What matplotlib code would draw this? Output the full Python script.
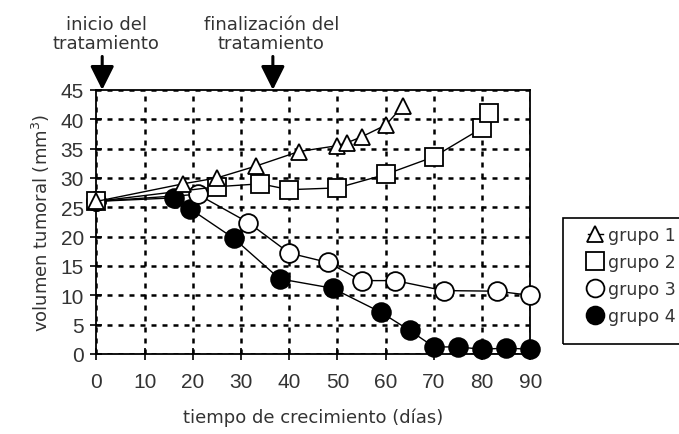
import matplotlib.pyplot as plt
from matplotlib.patches import Rectangle

# datos
g1_x = [0, 18, 25, 33, 42, 50, 52, 55, 60, 63.5]
g1_y = [26, 29, 30, 32, 34.5, 35.5, 36, 37, 39, 42.2]

g2_x = [0, 25, 34, 40, 50, 60, 70, 80, 81.5]
g2_y = [26, 28.5, 29, 28, 28.3, 30.6, 33.6, 38.5, 41.1]

g3_x = [0, 21, 31.5, 40, 48, 55, 62, 72, 83, 90]
g3_y = [26, 27.2, 22.4, 17.2, 15.6, 12.5, 12.5, 10.8, 10.7, 10]

g4_x = [0, 16, 19.5, 28.5, 38, 49, 59, 65, 70, 75, 80, 85, 90]
g4_y = [26, 26.6, 24.7, 19.7, 12.8, 11.2, 7.1, 4.0, 1.2, 1.2, 0.8, 1.0, 0.8]

labels = ["grupo 1", "grupo 2", "grupo 3", "grupo 4"]
arrow_x = [1.2, 36.6]
arrow_text = ["inicio del\ntratamiento", "finalización del\ntratamiento"]

txt_col = "#333333"

fig = plt.figure(figsize=(6.79, 4.35), dpi=100)
ax = fig.add_axes([0.142, 0.184, 0.639, 0.607])

ax.plot(g1_x, g1_y, color="black", lw=1, marker="^", ms=12, mfc="white",
        mec="black", mew=1.3, label=labels[0], clip_on=False, zorder=6)
ax.plot(g2_x, g2_y, color="black", lw=1, marker="s", ms=13.5, mfc="white",
        mec="black", mew=1.3, label=labels[1], clip_on=False, zorder=5)
ax.plot(g3_x, g3_y, color="black", lw=1, marker="o", ms=13.5, mfc="white",
        mec="black", mew=1.3, label=labels[2], clip_on=False, zorder=4)
ax.plot(g4_x, g4_y, color="black", lw=1, marker="o", ms=13.5, mfc="black",
        mec="black", mew=1.3, label=labels[3], clip_on=False, zorder=3)

ax.set_xlim(0, 90)
ax.set_ylim(0, 45)
ax.set_xticks(range(0, 91, 10))
ax.set_yticks(range(0, 46, 5))
ax.grid(True, color="black", linestyle=(0, (2, 2.4)), linewidth=1.8)
ax.set_axisbelow(True)
for s in ax.spines.values():
    s.set_linewidth(1.3)
ax.tick_params(labelsize=15, length=8, width=1.2, direction="inout",
               labelcolor=txt_col, pad=5)
ax.tick_params(axis="x", pad=9)
for t in ax.get_xticklabels() + ax.get_yticklabels():
    t.set_fontfamily("Liberation Sans")

ax.set_xlabel("tiempo de crecimiento (días)", fontsize=13, labelpad=12,
              color=txt_col)
ax.set_ylabel("volumen tumoral (mm$^3$)", fontsize=13, labelpad=6,
              color=txt_col)

for xv, txt in zip(arrow_x, arrow_text):
    ax.annotate("", xy=(xv, 45), xytext=(xv, 50.7), annotation_clip=False,
                arrowprops=dict(arrowstyle="-|>,head_length=0.72,head_width=0.36",
                                color="black", lw=2.2, mutation_scale=20,
                                shrinkA=0, shrinkB=0))
    ax.text(xv + (0.8 if xv < 10 else -0.3), 51.5, txt, ha="center",
            va="bottom", fontsize=13, linespacing=1.05, color=txt_col)

leg = ax.legend(loc="upper left", bbox_to_anchor=(0.845, 0.51),
                bbox_transform=fig.transFigure, fontsize=12.5, frameon=False,
                markerscale=0.95, handlelength=0.9, handletextpad=0.25,
                labelspacing=0.52, borderpad=0.3)
for t in leg.get_texts():
    t.set_color(txt_col)

fig.patches.append(Rectangle((0.829, 0.207), 0.2, 0.29, transform=fig.transFigure,
                             fill=False, edgecolor="black", lw=1.2))

fig.savefig("out.png", dpi=100)
